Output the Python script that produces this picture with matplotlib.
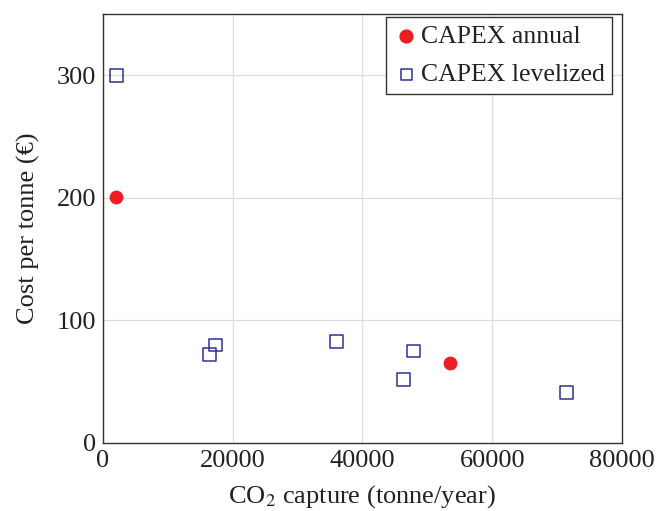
import matplotlib
matplotlib.use("Agg")
import matplotlib.pyplot as plt

# data
annual_x = [2000, 53500]
annual_y = [201, 65]

levelized_x = [2100, 16400, 17400, 36000, 46300, 47800, 71500]
levelized_y = [300, 72, 80, 83, 52, 75, 41]

xticks = [0, 20000, 40000, 60000, 80000]
yticks = [0, 100, 200, 300]

plt.rcParams['font.family'] = ['Liberation Serif', 'DejaVu Serif']
plt.rcParams['mathtext.fontset'] = 'stix'

fig = plt.figure(figsize=(6.58, 5.11), dpi=100)
ax = fig.add_axes([0.1565, 0.1331, 0.7888, 0.8395])

ax.scatter(annual_x, annual_y, s=80, color='#ee1c25', marker='o', zorder=3,
           label='CAPEX annual')
ax.scatter(levelized_x, levelized_y, s=85, facecolors='none', edgecolors='#2e3192',
           marker='s', linewidths=1.1, zorder=3, label='CAPEX levelized')

ax.set_xlim(0, 80000)
ax.set_ylim(0, 350)
ax.set_xticks(xticks)
ax.set_yticks(yticks)
ax.set_xticklabels([str(t) for t in xticks])
ax.set_yticklabels([str(t) for t in yticks])
ax.tick_params(direction='in', length=0, labelsize=19, pad=5, labelcolor='#222222')
ax.grid(True, color='#dddddd', linewidth=0.9)
ax.set_axisbelow(True)
for s in ax.spines.values():
    s.set_color('#333333')
    s.set_linewidth(1.0)

ax.set_xlabel('CO$_2$ capture (tonne/year)', fontsize=19, labelpad=8, color='#222222')
ax.set_ylabel('Cost per tonne (€)', fontsize=19, labelpad=12, color='#222222')

leg = ax.legend(loc='upper right', bbox_to_anchor=(0.981, 0.993), fontsize=18.5,
                frameon=True, fancybox=False, edgecolor='#333333', framealpha=1,
                handletextpad=0.05, handlelength=1.0, borderpad=0.3,
                labelspacing=0.6, borderaxespad=0)
leg.get_frame().set_linewidth(1.0)
leg.legend_handles[0].set_sizes([85])
leg.legend_handles[1].set_sizes([60])
for t in leg.get_texts():
    t.set_color('#222222')

fig.savefig('out.png', dpi=100)
